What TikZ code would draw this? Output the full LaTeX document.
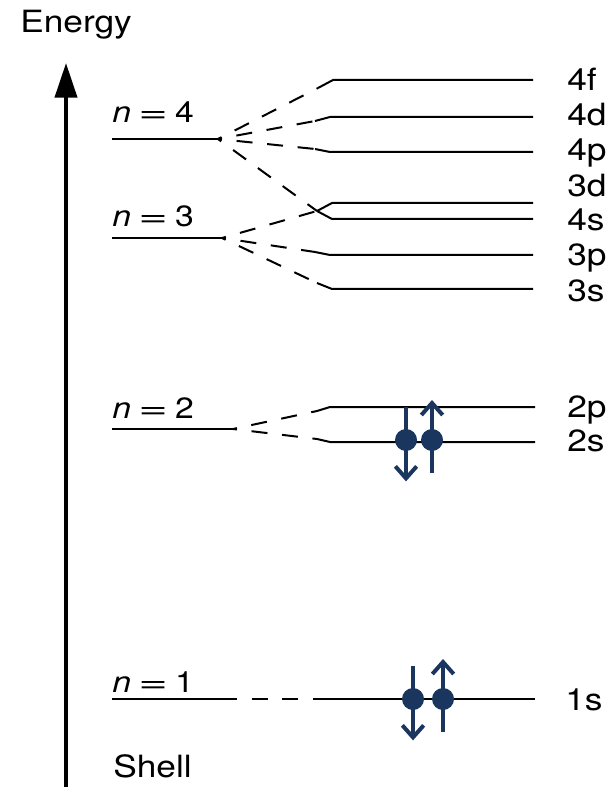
\documentclass[tikz,border=0pt]{standalone}
\usepackage{fontspec}
\newfontfamily\lblfont[FakeStretch=1.15]{TeX Gyre Heros}
\usepackage{graphicx}
\usepackage{tikz}
\usetikzlibrary{arrows.meta}
\definecolor{spinblue}{RGB}{26,54,94}
\newcommand\wideeq{\hspace{0.25em}\scalebox{1.5}[1]{=}\hspace{0.25em}}

\begin{document}
\begin{tikzpicture}[x=0.75pt,y=-0.75pt,
  lbl/.style={font=\lblfont\fontsize{23}{26}\selectfont,inner sep=0pt,anchor=base west},
  nlbl/.style={font=\lblfont\fontsize{22}{26}\selectfont,inner sep=0pt,anchor=base west},
  level/.style={line width=1.5pt},
  split/.style={line width=1.5pt,dash pattern=on 12pt off 11pt,dash phase=9pt},
  electron/.style={circle,fill=spinblue,minimum size=16.5pt,inner sep=0pt},
  spin/.style={spinblue,line width=3pt,-{Straight Barb[length=9pt,width=16pt]}}]
  \useasboundingbox (0,0) rectangle (614,787);

  % energy axis
  \coordinate (ebot) at (66,787);
  \coordinate (etop) at (66,63);
  \draw[line width=3pt,-{Triangle[length=26pt,width=16.5pt]}] (ebot) -- (etop);
  \node[lbl] (energy) at (20,33) {Energy};
  \node[lbl] (shell) at (113,777) {Shell};

  % shells
  \foreach \n/\y/\xe/\b in {4/139/218/123,3/238/222/227,2/429/233/418,1/699/233/692} {
    \coordinate (s\n) at (112,\y);
    \coordinate (p\n) at (\xe,\y);
    \draw[level] (s\n) -- (p\n);
    \node[nlbl] (n\n) at (112,\b) {\textit{n}\wideeq\n};
  }

  % subshells
  \foreach \lab/\kx/\ky/\hx/\hy/\ex in {4f/318/88/333/80/533,4d/315/121/330/117/533,
      4p/315/149/330/152/533,3d/317/211/332/203/533,4s/317/211/332/219/533,
      3p/315/252/330/255/533,3s/317/283/332/289/533,2p/317/411/330/407/535,
      2s/317/439/330/442/535,1s/317/699/317/699/535} {
    \coordinate (k\lab) at (\kx,\ky);
    \coordinate (h\lab) at (\hx,\hy);
    \coordinate (e\lab) at (\ex,\hy);
    \draw[level] (k\lab) -- (h\lab) -- (e\lab);
  }
  \foreach \lab/\y in {4f/80,4d/115,4p/150,3d/186,4s/220,3p/255,3s/290,2p/406,2s/440}
    \node[lbl] (l\lab) at (567,\y+11) {\lab};
  \node[lbl] (l1s) at (565,710) {1s};

  % splitting
  \foreach \u/\v in {p4/k4f,p4/k4d,p4/k4p,p4/k4s,p3/k3d,p3/k3p,p3/k3s,p2/k2p,p2/k2s,p1/k1s}
    \draw[split] (\u) -- (\v);

  % electrons
  \node[electron] (e2a) at (406,440) {};
  \node[electron] (e2b) at (432,440) {};
  \node[electron] (e1a) at (413,699) {};
  \node[electron] (e1b) at (443,699) {};
  \foreach \e in {e2a,e1a}
    \draw[spin] ([yshift=25pt]\e.center) -- ([yshift=-31pt]\e.center);
  \foreach \e in {e2b,e1b}
    \draw[spin] ([yshift=-25pt]\e.center) -- ([yshift=30pt]\e.center);
\end{tikzpicture}
\end{document}
